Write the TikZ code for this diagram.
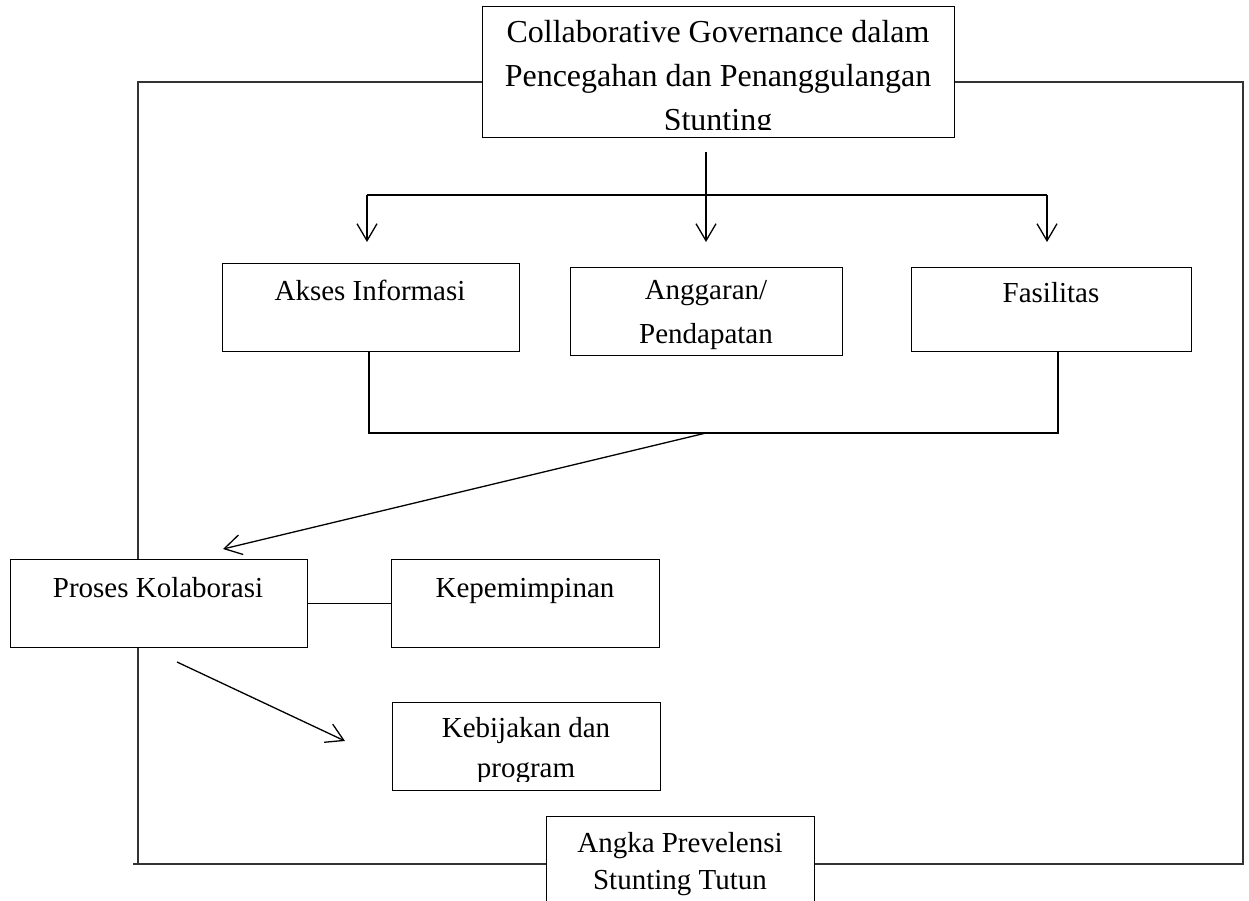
\documentclass[tikz,border=0pt]{standalone}
\usepackage{fontspec}
\setmainfont{Liberation Serif}
\usetikzlibrary{arrows.meta}
\tikzset{
  box/.style={draw, line width=1.3pt, inner sep=0pt, anchor=north west, fill=white},
  txt/.style={inner sep=0pt, anchor=base, font=\fontsize{29}{44}\selectfont},
  ln/.style={line width=1.3pt},
  frame/.style={line width=1.6pt, draw=black!80},
  arr/.style={line width=1.3pt, -{Straight Barb[length=17pt, width=20pt, line width=1.3pt]}}
}
\newcommand{\lines}[2]{\parbox[t]{#1}{\centering #2}}
\begin{document}
\begin{tikzpicture}[x=1pt, y=-1pt]
\useasboundingbox (0,0) rectangle (1249,901);
\clip (0,0) rectangle (1249,901);

% boxes
\node[box, minimum width=472pt, minimum height=131pt] (top) at (482,6) {};
\node[box, minimum width=297pt, minimum height=88pt] (akses) at (222,263) {};
\node[box, minimum width=272pt, minimum height=88pt] (angg) at (570,267) {};
\node[box, minimum width=280pt, minimum height=84pt] (fas) at (911,267) {};
\node[box, minimum width=297pt, minimum height=88pt] (proses) at (10,559) {};
\node[box, minimum width=268pt, minimum height=88pt] (kep) at (391,559) {};
\node[box, minimum width=268pt, minimum height=88pt] (keb) at (392,702) {};
\node[box, minimum width=268pt, minimum height=114pt] (angka) at (546,816) {};

% texts (clipped to the inner area of their boxes)
\begin{scope}
\clip ([yshift=9pt]top.south west) rectangle (top.north east);
\node[txt] (toptxt) at (718,43) {\fontsize{32}{44}\selectfont\lines{470pt}{Collaborative Governance dalam\\Pencegahan dan Penanggulangan\\Stunting}};
\end{scope}
\node[txt] (aksestxt) at (370,300) {Akses Informasi};
\begin{scope}
\clip ([yshift=5pt]angg.south west) rectangle (angg.north east);
\node[txt] (anggtxt) at (706,299) {\fontsize{29}{44}\selectfont\lines{260pt}{Anggaran/\\Pendapatan}};
\end{scope}
\node[txt] (fastxt) at (1051,302) {Fasilitas};
\node[txt] (prosestxt) at (158,597) {Proses Kolaborasi};
\node[txt] (keptxt) at (525,597) {Kepemimpinan};
\begin{scope}
\clip ([yshift=10pt]keb.south west) rectangle (keb.north east);
\node[txt] (kebtxt) at (526,737) {\fontsize{29}{40}\selectfont\lines{260pt}{Kebijakan dan\\program}};
\end{scope}
\node[txt] (angkatxt) at (680,852) {\fontsize{29}{37}\selectfont\lines{260pt}{Angka Prevelensi\\Stunting Tutun}};

% coordinates
\coordinate (c0) at (706,152);
\coordinate (bL) at (367,195);
\coordinate (bR) at (1047,195);
\coordinate (aL) at (367,242);
\coordinate (aM) at (706,242);
\coordinate (aR) at (1047,242);
\coordinate (k1) at (369,433);
\coordinate (k2) at (1058,433);
\coordinate (kM) at (706,433);
\coordinate (pTip) at (223,549);
\coordinate (d0) at (177,662);
\coordinate (d1) at (345,741);
\coordinate (fTL) at (138,82);
\coordinate (fTR) at (1243,82);
\coordinate (fBL) at (138,864);
\coordinate (fBR) at (1243,864);
\coordinate (fBL0) at (133,864);

% top distribution
\draw[ln] (bL) -- (bR);
\draw[arr] (c0) -- (aM);
\draw[arr] (bL) -- (aL);
\draw[arr] (bR) -- (aR);

% bracket
\draw[ln] (akses.south -| k1) -- (k1) -- (k2) -- (fas.south -| k2);
\draw[arr] (kM) -- (pTip);

% middle
\draw[ln] (proses.east) -- (kep.west);
\draw[arr] (d0) -- (d1);

% outer frame
\draw[frame] (top.west |- fTL) -- (fTL) -- (proses.north -| fTL);
\draw[frame] (proses.south -| fBL) -- (fBL);
\draw[frame] (fBL0) -- (angka.west |- fBL);
\draw[frame] (top.east |- fTR) -- (fTR) -- (fBR) -- (angka.east |- fBR);
\end{tikzpicture}
\end{document}
